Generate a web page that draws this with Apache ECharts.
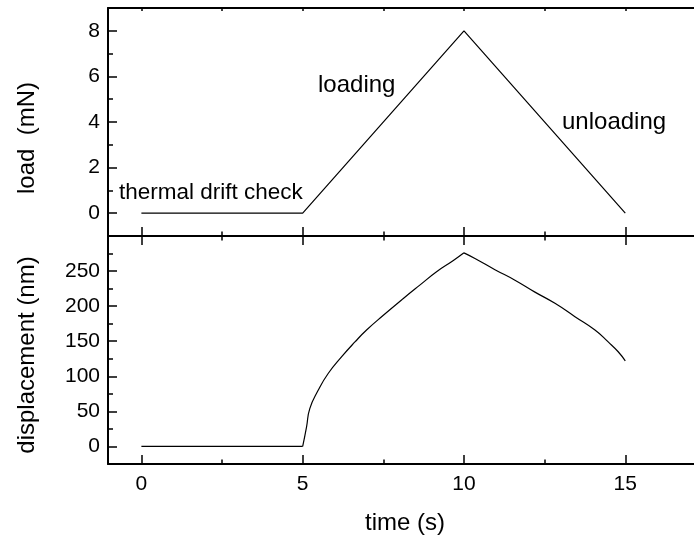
<!DOCTYPE html>
<html>
<head>
<meta charset="utf-8">
<script src="https://cdn.jsdelivr.net/npm/echarts@6/dist/echarts.min.js"></script>
<style>
  html, body { margin: 0; padding: 0; background: #fff; }
  #chart { width: 694px; height: 535px; }
</style>
</head>
<body>
<div id="chart"></div>
<script>
// Nanoindentation cycle: load and displacement against time
const loadTime = [0, 5, 10, 15];
const loadValues = [0, 0, 8, 0];

const dispTime = [0, 5, 5.12, 5.22, 5.48, 5.79, 6.21, 6.62, 6.98, 7.5, 8.12, 8.63, 9.15, 9.67, 10,
                  10.34, 10.96, 11.58, 12.2, 12.82, 13.44, 14.06, 14.47, 14.78, 15];
const dispValues = [0, 0, 28, 54, 80, 104, 128, 149, 166, 187, 211, 230, 249, 265, 276,
                    268, 252, 237, 220, 204, 185, 166, 149, 135, 122];

const timeTicks = [0, 5, 10, 15];
const timeMinorTicks = [2.5, 7.5, 12.5];
const loadTicks = [0, 2, 4, 6, 8];
const loadMinorTicks = [1, 3, 5, 7];
const dispTicks = [0, 50, 100, 150, 200, 250];
const dispMinorTicks = [25, 75, 125, 175, 225, 275];

const FONT = '"Liberation Sans", Arial, sans-serif';
const X_MIN = -1.035, X_MAX = 17.13;

function pairs(xs, ys) { return xs.map((x, i) => [x, ys[i]]); }
// points whose time lies within [t0, t1]
function segment(xs, ys, t0, t1) {
  return pairs(xs, ys).filter(p => p[0] >= t0 && p[0] <= t1);
}

// helper for an x axis: frame line and inward ticks at given values
function xAx(grid, position, ticks, len, opts) {
  opts = opts || {};
  return {
    type: 'value', gridIndex: grid, position: position, min: X_MIN, max: X_MAX,
    axisLine: { show: !!opts.line, onZero: false, lineStyle: { color: '#000', width: 2 } },
    axisTick: { show: true, inside: true, length: len, customValues: ticks, lineStyle: { color: '#000', width: 1.5 } },
    axisLabel: opts.labels ? {
      show: true, customValues: ticks, margin: 10, color: '#000', fontFamily: FONT, fontSize: 21
    } : { show: false },
    splitLine: { show: false }
  };
}
function yAx(grid, min, max, ticks, len, opts) {
  opts = opts || {};
  return {
    type: 'value', gridIndex: grid, position: 'left', min: min, max: max,
    axisLine: { show: !!opts.line, onZero: false, lineStyle: { color: '#000', width: 2 } },
    axisTick: { show: true, inside: true, length: len, customValues: ticks, lineStyle: { color: '#000', width: 1.5 } },
    axisLabel: opts.labels ? {
      show: true, customValues: ticks, margin: 8, color: '#000', fontFamily: FONT, fontSize: 21
    } : { show: false },
    splitLine: { show: false }
  };
}

// displacement drawn in three pieces so the corners at 5 s and 10 s stay sharp
function dispSeries(name, t0, t1, smooth) {
  return {
    name: name, type: 'line', xAxisIndex: 5, yAxisIndex: 2,
    data: segment(dispTime, dispValues, t0, t1), showSymbol: false, symbol: 'none',
    smooth: smooth,
    lineStyle: { color: '#000', width: 1.2 }
  };
}

const chart = echarts.init(document.getElementById('chart'), null, { renderer: 'canvas' });

chart.setOption({
  backgroundColor: '#fff',
  animation: false,
  grid: [
    { left: 108, right: 0, top: 8, height: 228 },
    { left: 108, right: 0, top: 236, height: 228 }
  ],
  xAxis: [
    xAx(0, 'bottom', timeTicks, 9, { line: true }),                 // 0
    xAx(0, 'bottom', timeMinorTicks, 4.5),                          // 1
    xAx(0, 'top', timeTicks.concat(timeMinorTicks), 3, { line: true }), // 2
    xAx(1, 'top', timeTicks, 9, { line: true }),                    // 3
    xAx(1, 'top', timeMinorTicks, 4.5),                             // 4
    xAx(1, 'bottom', timeTicks, 9, { line: true, labels: true }),   // 5
    xAx(1, 'bottom', timeMinorTicks, 4.5)                           // 6
  ],
  yAxis: [
    yAx(0, -1, 9, loadTicks, 9, { line: true, labels: true }),      // 0
    yAx(0, -1, 9, loadMinorTicks, 5),                               // 1
    yAx(1, -25, 300, dispTicks, 9, { line: true, labels: true }),   // 2
    yAx(1, -25, 300, dispMinorTicks, 5)                             // 3
  ],
  series: [
    {
      name: 'load', type: 'line', xAxisIndex: 0, yAxisIndex: 0,
      data: pairs(loadTime, loadValues), showSymbol: false, symbol: 'none',
      lineStyle: { color: '#000', width: 1.2 }
    },
    dispSeries('displacement drift', 0, 5, false),
    dispSeries('displacement loading', 5, 10, 0.5),
    dispSeries('displacement unloading', 10, 15, 0.5)
  ],
  graphic: [
    { type: 'text', x: 27, y: 138, rotation: Math.PI / 2,
      style: { text: 'load  (mN)', fill: '#000', font: '24px ' + FONT, align: 'center', verticalAlign: 'middle' } },
    { type: 'text', x: 27, y: 355, rotation: Math.PI / 2,
      style: { text: 'displacement (nm)', fill: '#000', font: '24px ' + FONT, align: 'center', verticalAlign: 'middle' } },
    { type: 'text', x: 405, y: 523,
      style: { text: 'time (s)', fill: '#000', font: '24px ' + FONT, align: 'center', verticalAlign: 'middle' } },
    { type: 'text', x: 119, y: 193,
      style: { text: 'thermal drift check', fill: '#000', font: '22.5px ' + FONT, align: 'left', verticalAlign: 'middle' } },
    { type: 'text', x: 318, y: 85,
      style: { text: 'loading', fill: '#000', font: '24px ' + FONT, align: 'left', verticalAlign: 'middle' } },
    { type: 'text', x: 562, y: 122,
      style: { text: 'unloading', fill: '#000', font: '24px ' + FONT, align: 'left', verticalAlign: 'middle' } }
  ]
});
</script>
</body>
</html>
